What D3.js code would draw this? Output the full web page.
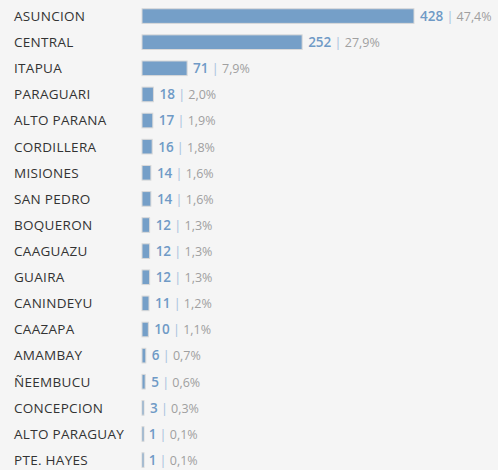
<!DOCTYPE html>
<html lang="es">
<head>
<meta charset="UTF-8">
<title>Departamentos</title>
<style>
  body { margin: 0; background: #f5f5f5; }
  svg { display: block; font-family: "Open Sans", Lato, sans-serif; }
</style>
</head>
<body>
<div id="chart"></div>
<script src="https://d3js.org/d3.v7.min.js"></script>
<script>
  // data
  var departamentos = ["ASUNCION", "CENTRAL", "ITAPUA", "PARAGUARI", "ALTO PARANA", "CORDILLERA",
    "MISIONES", "SAN PEDRO", "BOQUERON", "CAAGUAZU", "GUAIRA", "CANINDEYU", "CAAZAPA",
    "AMAMBAY", "ÑEEMBUCU", "CONCEPCION", "ALTO PARAGUAY", "PTE. HAYES"];
  var casos = [428, 252, 71, 18, 17, 16, 14, 14, 12, 12, 12, 11, 10, 6, 5, 3, 1, 1];
  var porcentajes = ["47,4%", "27,9%", "7,9%", "2,0%", "1,9%", "1,8%", "1,6%", "1,6%", "1,3%",
    "1,3%", "1,3%", "1,2%", "1,1%", "0,7%", "0,6%", "0,3%", "0,1%", "0,1%"];

  var width = 498, height = 470;
  var barLeft = 142;

  var data = departamentos.map((d, i) => ({ name: d, value: casos[i], pct: porcentajes[i] }));

  var svg = d3.select("#chart").append("svg")
      .attr("width", width)
      .attr("height", height);

  var x = d3.scaleLinear()
      .domain([0, 428])
      .range([barLeft, 414]);

  var y = d3.scaleBand()
      .domain(departamentos)
      .range([3, 3 + 26.12 * departamentos.length])
      .paddingInner(0.44)
      .paddingOuter(0.22);

  var rows = svg.selectAll(".row")
      .data(data)
      .enter().append("g")
      .attr("class", "row");

  // category labels
  rows.append("text")
      .attr("x", 14)
      .attr("y", d => y(d.name) + y.bandwidth() / 2)
      .attr("dy", "0.36em")
      .style("font-size", "13.5px")
      .style("letter-spacing", "0.3px")
      .style("fill", "#333")
      .text(d => d.name);

  // bars
  rows.append("rect")
      .attr("x", x(0))
      .attr("y", d => y(d.name))
      .attr("width", d => Math.max(x(d.value) - x(0), 2))
      .attr("height", y.bandwidth())
      .attr("fill", "#759fc8")
      .attr("stroke", "#d9d9d9")
      .attr("stroke-width", 1);

  // value | pct labels
  var lab = rows.append("text")
      .attr("x", d => x(d.value) + 6)
      .attr("y", d => y(d.name) + y.bandwidth() / 2)
      .attr("dy", "0.36em")
      .style("font-size", "13.5px");

  lab.append("tspan")
      .style("fill", "#6f9ac6")
      .style("font-weight", "600")
      .text(d => d.value);

  lab.append("tspan")
      .attr("dx", 3)
      .style("fill", "#a9c3de")
      .text("|");

  lab.append("tspan")
      .attr("dx", 3)
      .style("fill", "#a0a0a0")
      .style("font-size", "12.5px")
      .text(d => d.pct);
</script>
</body>
</html>
